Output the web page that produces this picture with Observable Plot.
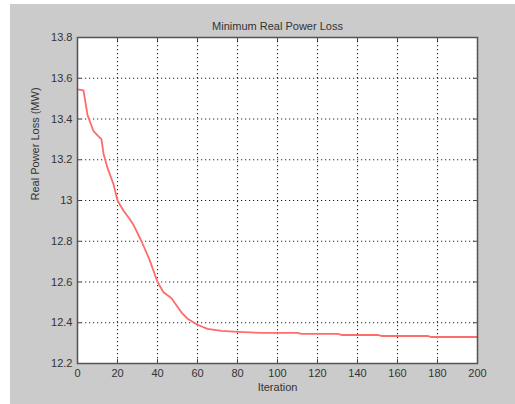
<!DOCTYPE html>
<html>
<head>
<meta charset="utf-8">
<script src="https://cdn.jsdelivr.net/npm/d3@7"></script>
<script src="https://cdn.jsdelivr.net/npm/@observablehq/plot@0.6"></script>
<style>
  html, body { margin: 0; padding: 0; background: #ffffff; }
  #wrap { padding-left: 10px; padding-top: 4px; width: 505px; height: 400px; }
  svg { display: block; }
</style>
</head>
<body>
<div id="wrap"></div>
<script>
const iteration = [0,3,5,8,11,12,13,15,18,20,23,26,28,32,36,40,43,47,52,55,60,65,72,80,92,100,110,112,130,132,150,152,175,177,200];
const loss = [13.545,13.54,13.42,13.34,13.31,13.30,13.23,13.16,13.08,13.00,12.95,12.91,12.88,12.80,12.71,12.60,12.55,12.52,12.45,12.42,12.39,12.37,12.36,12.355,12.35,12.35,12.35,12.345,12.345,12.34,12.34,12.335,12.335,12.33,12.33];
const xTicks = [0,20,40,60,80,100,120,140,160,180,200];
const yTicks = [12.2,12.4,12.6,12.8,13,13.2,13.4,13.6,13.8];
const title = "Minimum Real Power Loss";
const xLabel = "Iteration";
const yLabel = "Real Power Loss (MW)";

const data = iteration.map((x, i) => ({x, y: loss[i]}));
const font = "Liberation Sans, Arial, sans-serif";
const W = 505, H = 400, mL = 67, mR = 38, mT = 33, mB = 41;
const innerW = W - mL - mR, innerH = H - mT - mB, tk = 4;

const chart = Plot.plot({
  width: W,
  height: H,
  marginLeft: mL,
  marginRight: mR,
  marginTop: mT,
  marginBottom: mB,
  style: {background: "#cbcbcb", fontFamily: font, fontSize: "11px", color: "#333"},
  x: {domain: [0, 200], ticks: xTicks, label: null},
  y: {domain: [12.2, 13.8], ticks: yTicks, label: null},
  marks: [
    Plot.frame({fill: "#ffffff"}),
    Plot.gridX(xTicks, {stroke: "#000", strokeOpacity: 0.85, strokeDasharray: "1.2,2.8", strokeWidth: 1.1}),
    Plot.gridY(yTicks, {stroke: "#000", strokeOpacity: 0.85, strokeDasharray: "1.2,2.8", strokeWidth: 1.1}),
    Plot.axisX(xTicks, {tickSize: 0, tickPadding: 6, fontSize: 11, fill: "#333", tickFormat: d => String(d)}),
    Plot.axisY(yTicks, {tickSize: 0, tickPadding: 5, fontSize: 11, fill: "#333", tickFormat: d => String(+d.toFixed(1))}),
    Plot.tickX(xTicks, {x: d => d, insetTop: innerH - tk, stroke: "#444"}),
    Plot.tickX(xTicks, {x: d => d, insetBottom: innerH - tk, stroke: "#444"}),
    Plot.tickY(yTicks, {y: d => d, insetRight: innerW - tk, stroke: "#444"}),
    Plot.tickY(yTicks, {y: d => d, insetLeft: innerW - tk, stroke: "#444"}),
    Plot.line(data, {x: "x", y: "y", stroke: "#ff6b6b", strokeWidth: 1.8}),
    Plot.frame({stroke: "#555", strokeWidth: 1.5}),
    Plot.text([title], {frameAnchor: "top", dy: -15, fontSize: 11, fill: "#333"}),
    Plot.text([xLabel], {frameAnchor: "bottom", dy: 27, fontSize: 11, fill: "#333"}),
    Plot.text([yLabel], {frameAnchor: "left", dx: -42, rotate: -90, fontSize: 11, fill: "#333"})
  ]
});
document.getElementById("wrap").appendChild(chart);
</script>
</body>
</html>
